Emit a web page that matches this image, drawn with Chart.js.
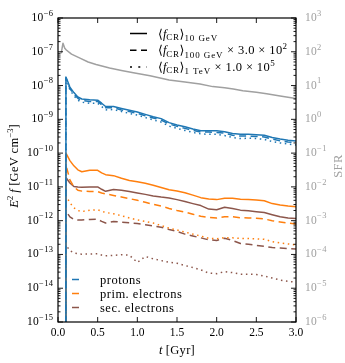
<!DOCTYPE html>
<html><head><meta charset="utf-8">
<script src="https://cdn.jsdelivr.net/npm/chart.js@4"></script>
<style>html,body{margin:0;padding:0;background:#fff}#wrap{width:345px;height:363px}</style>
</head><body><div id="wrap"><canvas id="c" width="345" height="363"></canvas></div>
<script>
// ---- data ----
const tCR = [0.095, 0.1, 0.15, 0.2, 0.25, 0.3, 0.4, 0.5, 0.55, 0.6, 0.7, 0.8, 0.9, 1.0, 1.1, 1.2, 1.3, 1.4, 1.5, 1.6, 1.7, 1.8, 1.9, 2.0, 2.1, 2.2, 2.3, 2.4, 2.5, 2.6, 2.7, 2.8, 2.9, 3.0];
const protons10GeV = [0, 1.8e-8, 9e-9, 6.2e-9, 4.6e-9, 4.0e-9, 3.8e-9, 3.7e-9, 3.0e-9, 2.4e-9, 2.4e-9, 2.1e-9, 1.85e-9, 1.65e-9, 1.4e-9, 1.2e-9, 1.05e-9, 8e-10, 6.8e-10, 6e-10, 5.2e-10, 4.6e-10, 4.6e-10, 4.6e-10, 4.3e-10, 3.8e-10, 3.6e-10, 3.6e-10, 3.5e-10, 3.4e-10, 2.9e-10, 2.6e-10, 2.4e-10, 2.3e-10];
const protons100GeV = [0, 1.7e-8, 8.2e-9, 5.6e-9, 4.2e-9, 3.6e-9, 3.4e-9, 3.4e-9, 2.7e-9, 2.2e-9, 2.2e-9, 1.9e-9, 1.7e-9, 1.5e-9, 1.28e-9, 1.1e-9, 9.5e-10, 7.3e-10, 6.2e-10, 5.4e-10, 4.7e-10, 4.2e-10, 4.2e-10, 4.1e-10, 3.9e-10, 3.4e-10, 3.2e-10, 3.2e-10, 3.1e-10, 3.0e-10, 2.6e-10, 2.3e-10, 2.15e-10, 2.05e-10];
const protons1TeV = [0, 1.6e-8, 7.5e-9, 5e-9, 3.7e-9, 3.2e-9, 3.0e-9, 3.0e-9, 2.4e-9, 1.9e-9, 1.95e-9, 1.7e-9, 1.5e-9, 1.33e-9, 1.13e-9, 9.6e-10, 8.3e-10, 6.3e-10, 5.4e-10, 4.7e-10, 4.1e-10, 3.7e-10, 3.6e-10, 3.6e-10, 3.3e-10, 2.9e-10, 2.7e-10, 2.75e-10, 2.7e-10, 2.55e-10, 2.2e-10, 2.0e-10, 1.85e-10, 1.75e-10];
const prim10GeV = [0, 1.0e-10, 6e-11, 4.2e-11, 3.2e-11, 2.8e-11, 3.1e-11, 3.1e-11, 2.6e-11, 2.3e-11, 2.15e-11, 1.8e-11, 1.55e-11, 1.42e-11, 1.28e-11, 1.12e-11, 9.6e-12, 8.2e-12, 7.5e-12, 6.7e-12, 5.7e-12, 4.8e-12, 4.4e-12, 4.2e-12, 4.6e-12, 4.6e-12, 4.3e-12, 4.2e-12, 4.1e-12, 3.9e-12, 3.2e-12, 2.9e-12, 2.7e-12, 2.6e-12];
const prim100GeV = [0, 4.5e-11, 1.6e-11, 1.0e-11, 8e-12, 7.5e-12, 7.3e-12, 7.2e-12, 6.6e-12, 6.2e-12, 5.6e-12, 5.0e-12, 4.5e-12, 4.0e-12, 3.5e-12, 3.05e-12, 2.7e-12, 2.3e-12, 2.0e-12, 1.8e-12, 1.55e-12, 1.35e-12, 1.25e-12, 1.2e-12, 1.3e-12, 1.3e-12, 1.22e-12, 1.2e-12, 1.18e-12, 1.12e-12, 1.0e-12, 9.2e-13, 8.5e-13, 8e-13];
const prim1TeV = [0, 5.5e-12, 3.4e-12, 2.4e-12, 2.0e-12, 1.85e-12, 2.05e-12, 2.1e-12, 1.9e-12, 1.75e-12, 1.6e-12, 1.4e-12, 1.2e-12, 1.05e-12, 9.5e-13, 8.5e-13, 7.2e-13, 6.0e-13, 5.3e-13, 4.6e-13, 4.0e-13, 3.5e-13, 3.0e-13, 2.9e-13, 3.15e-13, 3.1e-13, 3.0e-13, 2.95e-13, 2.9e-13, 2.8e-13, 2.4e-13, 2.2e-13, 2.05e-13, 1.9e-13];
const sec10GeV = [0, 1.9e-11, 1.3e-11, 1.03e-11, 9.9e-12, 9.8e-12, 1.0e-11, 1.0e-11, 8.5e-12, 7.4e-12, 8.4e-12, 7.9e-12, 7.3e-12, 6.6e-12, 6.0e-12, 5.4e-12, 5.0e-12, 4.7e-12, 4.2e-12, 3.7e-12, 3.2e-12, 2.8e-12, 2.2e-12, 2.1e-12, 2.5e-12, 2.3e-12, 2.05e-12, 1.95e-12, 1.85e-12, 1.75e-12, 1.5e-12, 1.3e-12, 1.2e-12, 1.15e-12];
const sec100GeV = [0, 1.9e-12, 1.3e-12, 1.08e-12, 1.05e-12, 1.05e-12, 1.08e-12, 1.1e-12, 9.5e-13, 8.5e-13, 9.5e-13, 9.0e-13, 8.6e-13, 8.2e-13, 7.6e-13, 7.0e-13, 6.4e-13, 5.5e-13, 4.8e-13, 4.0e-13, 3.5e-13, 3.1e-13, 2.7e-13, 2.6e-13, 3.0e-13, 2.6e-13, 2.1e-13, 2.0e-13, 1.85e-13, 1.75e-13, 1.6e-13, 1.55e-13, 1.5e-13, 1.45e-13];
const sec1TeV = [0, 1.9e-13, 1.3e-13, 1.1e-13, 1.05e-13, 1.02e-13, 1.03e-13, 1.05e-13, 9.6e-14, 9.1e-14, 9.4e-14, 9.8e-14, 9.5e-14, 5.8e-14, 8.7e-14, 7.4e-14, 6.6e-14, 5.9e-14, 5.5e-14, 4.7e-14, 4.1e-14, 3.5e-14, 2.8e-14, 2.7e-14, 3.1e-14, 2.9e-14, 2.6e-14, 2.6e-14, 2.55e-14, 2.3e-14, 2.0e-14, 1.75e-14, 1.6e-14, 1.5e-14];
const tSFR = [0.04, 0.063, 0.085, 0.105, 0.17, 0.27, 0.38, 0.48, 0.65, 0.8, 0.95, 1.16, 1.4, 1.6, 1.79, 1.95, 2.1, 2.21, 2.33, 2.5, 2.63, 2.8, 3.0];
const sfr = [90, 180, 128, 113, 85, 66, 50, 42, 33, 28, 24, 19.5, 14.5, 12.8, 11.2, 9.3, 8.6, 7.9, 7.0, 6.3, 5.7, 4.9, 4.1];

const xTickValues = [0, 0.5, 1.0, 1.5, 2.0, 2.5, 3.0];
const yTickExponents = [-15, -14, -13, -12, -11, -10, -9, -8, -7, -6];
const sfrTickExponents = [-6, -5, -4, -3, -2, -1, 0, 1, 2, 3];
const speciesLabels = ['protons', 'prim. electrons', 'sec. electrons'];
const energyLabels = ['10 GeV', '100 GeV', '1 TeV'];
const scaleTexts = ['', ' \u00d7 3.0 \u00d7 10', ' \u00d7 1.0 \u00d7 10'];
const scaleExps = ['', '2', '5'];

// ---- styles ----
const BLUE = '#1f77b4', ORANGE = '#ff7f0e', BROWN = '#8c564b', GRAY = '#a0a0a0';
const SERIF = '"Liberation Serif", "DejaVu Serif", serif';
const DASHES = [[], [7, 4.5], [1.5, 3.6]];
const LEG_DASHES = [[], [6.5, 4.5], [2, 6.3]];

function pts(ts, vs) { return ts.map((t, i) => ({x: t, y: vs[i] > 0 ? vs[i] : 1e-30})); }
function ds(label, ts, vs, color, k, axis) {
  return {label, data: pts(ts, vs), borderColor: color, borderDash: DASHES[k], borderWidth: 1.5,
    pointRadius: 0, tension: 0, fill: false, yAxisID: axis || 'y', borderCapStyle: 'butt', borderJoinStyle: 'round'};
}

function fontOf(r) { return (r.it ? 'italic ' : '') + r.s + 'px ' + SERIF; }
function setRun(ctx, r) { ctx.font = fontOf(r); ctx.letterSpacing = (r.ls || 0) + 'px'; }
function runsWidth(ctx, runs) { let w = 0; runs.forEach(r => { setRun(ctx, r); w += ctx.measureText(r.t).width; }); ctx.letterSpacing = '0px'; return w; }
function drawRuns(ctx, x, y, runs) { runs.forEach(r => { setRun(ctx, r); ctx.fillText(r.t, x, y + (r.dy || 0)); x += ctx.measureText(r.t).width; }); ctx.letterSpacing = '0px'; return x; }
function seg(ctx, x1, y1, x2, y2) { ctx.beginPath(); ctx.moveTo(x1, y1); ctx.lineTo(x2, y2); ctx.stroke(); }

const decor = {
  id: 'decor',
  afterDraw(chart) {
    const ctx = chart.ctx, a = chart.chartArea;
    const xs = chart.scales.x, ys = chart.scales.y, y2 = chart.scales.y2;
    ctx.save();
    // frame
    ctx.strokeStyle = '#000'; ctx.lineWidth = 1.2; ctx.setLineDash([]);
    ctx.strokeRect(a.left, a.top, a.right - a.left, a.bottom - a.top);
    ctx.lineWidth = 0.9;
    // x ticks (inward, top & bottom)
    xTickValues.forEach(v => {
      const px = xs.getPixelForValue(v);
      seg(ctx, px, a.bottom, px, a.bottom - 5);
      seg(ctx, px, a.top, px, a.top + 5);
    });
    // left y ticks
    yTickExponents.forEach(e => {
      for (let k = 1; k <= 9; k++) {
        if (e === -6 && k > 1) break;
        const py = ys.getPixelForValue(k * Math.pow(10, e));
        seg(ctx, a.left, py, a.left + (k === 1 ? 5 : 2.5), py);
      }
    });
    // right y ticks
    sfrTickExponents.forEach(e => {
      for (let k = 1; k <= 9; k++) {
        if (e === 3 && k > 1) break;
        const py = y2.getPixelForValue(k * Math.pow(10, e));
        seg(ctx, a.right, py, a.right - (k === 1 ? 5 : 2.5), py);
      }
    });
    // y tick labels
    ctx.textBaseline = 'middle';
    ctx.fillStyle = '#000';
    yTickExponents.forEach(e => {
      const py = ys.getPixelForValue(Math.pow(10, e));
      const runs = [{t: '10', s: 11.5, ls: 0.3}, {t: '\u2212' + Math.abs(e), s: 8.5, dy: -4.5, ls: 0.4}];
      const w = runsWidth(ctx, runs);
      drawRuns(ctx, a.left - 4.5 - w, py, runs);
    });
    ctx.fillStyle = GRAY;
    sfrTickExponents.forEach(e => {
      const py = y2.getPixelForValue(Math.pow(10, e));
      const runs = [{t: '10', s: 11.5, ls: 0.3}, {t: (e < 0 ? '\u2212' : '') + Math.abs(e), s: 8.5, dy: -4.5, ls: 0.4}];
      drawRuns(ctx, a.right + 9, py, runs);
    });
    // axis titles
    ctx.textBaseline = 'alphabetic';
    ctx.fillStyle = '#000';
    const xt = [{t: 't', s: 12.5, it: 1}, {t: ' [Gyr]', s: 12.5, ls: 0.3}];
    drawRuns(ctx, (a.left + a.right) / 2 - runsWidth(ctx, xt) / 2, 354, xt);
    const yt = [{t: 'E', s: 12.5, it: 1}, {t: '2', s: 8.5, dy: -5}, {t: ' ', s: 12}, {t: 'f', s: 12.5, it: 1},
      {t: ' [GeV cm', s: 12.5, ls: 0.3}, {t: '\u22123', s: 8.5, dy: -5}, {t: ']', s: 12.5}];
    ctx.save(); ctx.translate(18, 166); ctx.rotate(-Math.PI / 2);
    drawRuns(ctx, -runsWidth(ctx, yt) / 2, 0, yt); ctx.restore();
    ctx.fillStyle = GRAY;
    const st = [{t: 'SFR', s: 12.5, ls: 0.5}];
    ctx.save(); ctx.translate(342, 166); ctx.rotate(-Math.PI / 2);
    drawRuns(ctx, -runsWidth(ctx, st) / 2, 0, st); ctx.restore();
    // top legend (line styles)
    ctx.fillStyle = '#000'; ctx.strokeStyle = '#000'; ctx.lineWidth = 1.5;
    energyLabels.forEach((lab, i) => {
      const y = 33.5 + i * 16.7;
      ctx.setLineDash(LEG_DASHES[i]); seg(ctx, 130, y, 147, y); ctx.setLineDash([]);
      const runs = [{t: '\u27e8', s: 12.5}, {t: 'f', s: 12.5, it: 1}, {t: 'CR', s: 9, dy: 2.5, ls: 0.6}, {t: '\u27e9', s: 12.5},
        {t: lab, s: 9, dy: 3.5, ls: 0.9}];
      if (scaleTexts[i]) { runs.push({t: scaleTexts[i], s: 12.5, ls: 0.4}); runs.push({t: scaleExps[i], s: 9, dy: -5}); }
      drawRuns(ctx, 158, y + 4, runs);
    });
    // bottom legend (species colours)
    [BLUE, ORANGE, BROWN].forEach((c, i) => {
      const y = 279.5 + i * 14;
      ctx.strokeStyle = c; ctx.lineWidth = 1.5; seg(ctx, 72, y, 79, y);
      ctx.fillStyle = '#000';
      drawRuns(ctx, 100, y + 4, [{t: speciesLabels[i], s: 12.5, ls: 0.5}]);
    });
    ctx.restore();
  }
};

new Chart(document.getElementById('c'), {
  type: 'line',
  data: {datasets: [
    ds('protons 10 GeV', tCR, protons10GeV, BLUE, 0),
    ds('protons 100 GeV', tCR, protons100GeV, BLUE, 1),
    ds('protons 1 TeV', tCR, protons1TeV, BLUE, 2),
    ds('prim. electrons 10 GeV', tCR, prim10GeV, ORANGE, 0),
    ds('prim. electrons 100 GeV', tCR, prim100GeV, ORANGE, 1),
    ds('prim. electrons 1 TeV', tCR, prim1TeV, ORANGE, 2),
    ds('sec. electrons 10 GeV', tCR, sec10GeV, BROWN, 0),
    ds('sec. electrons 100 GeV', tCR, sec100GeV, BROWN, 1),
    ds('sec. electrons 1 TeV', tCR, sec1TeV, BROWN, 2),
    ds('SFR', tSFR, sfr, GRAY, 0, 'y2')
  ]},
  options: {
    responsive: false, animation: false, devicePixelRatio: 1, events: [],
    layout: {padding: {top: 18, left: 0, right: 0, bottom: 0}},
    plugins: {legend: {display: false}, tooltip: {enabled: false}},
    scales: {
      x: {type: 'linear', min: 0, max: 3, grid: {display: false, drawTicks: false}, border: {display: false},
        ticks: {stepSize: 0.5, padding: 4, color: '#000', font: {family: SERIF, size: 11.5},
          callback: v => v.toFixed(1), maxRotation: 0},
        afterBuildTicks: s => { s.ticks = xTickValues.map(v => ({value: v})); },
        afterFit: s => { s.height = 41; }},
      y: {type: 'logarithmic', position: 'left', min: 1e-15, max: 1e-6, grid: {display: false},
        border: {display: false}, ticks: {display: false}, afterFit: s => { s.width = 58; }},
      y2: {type: 'logarithmic', position: 'right', min: 1e-6, max: 1e3, grid: {display: false},
        border: {display: false}, ticks: {display: false}, afterFit: s => { s.width = 49; }}
    }
  },
  plugins: [decor]
});
</script></body></html>
